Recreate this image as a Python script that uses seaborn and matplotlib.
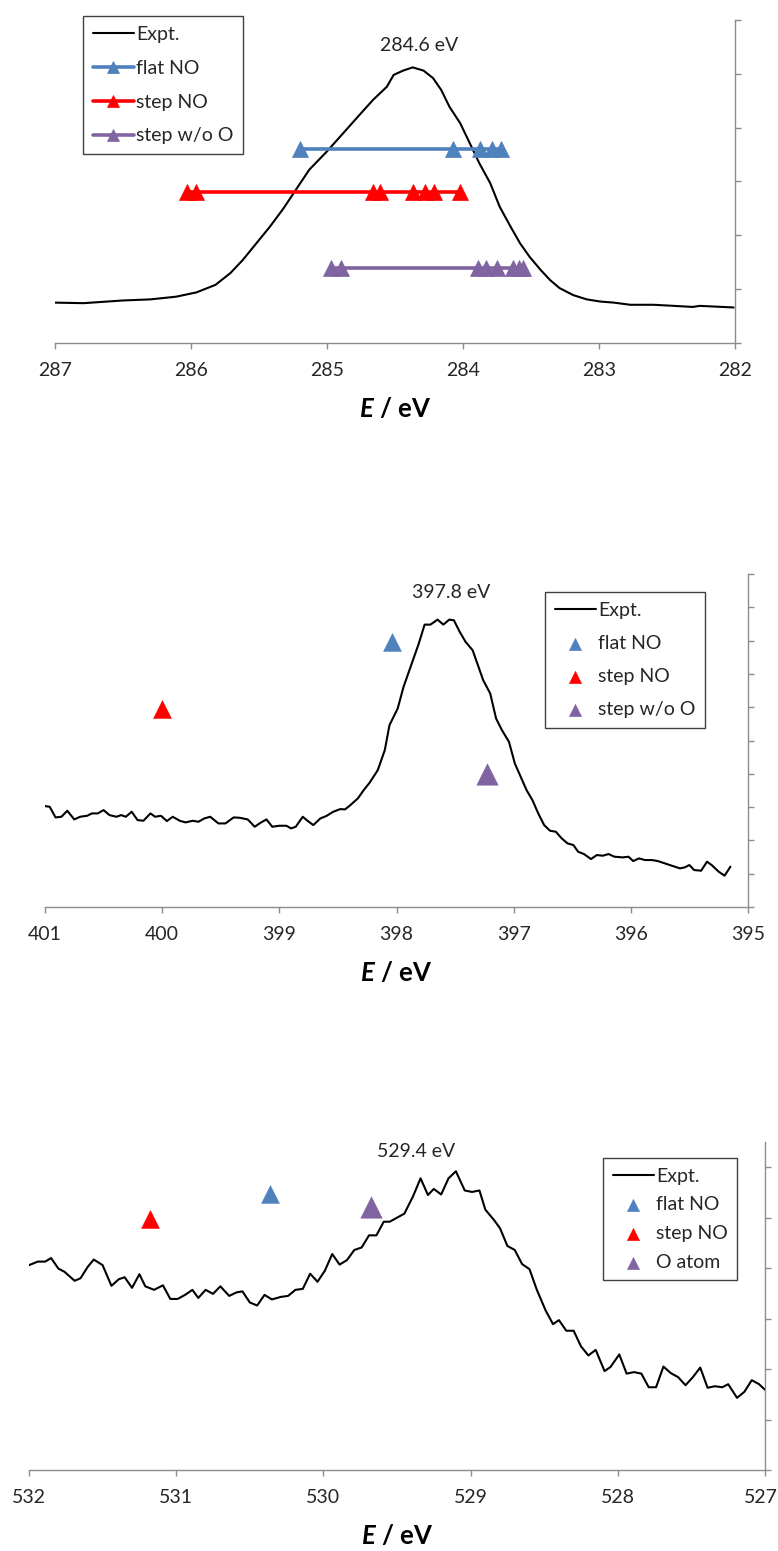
import numpy as np
import pandas as pd
import matplotlib
matplotlib.use("Agg")
import matplotlib.pyplot as plt
import matplotlib.transforms as mtransforms
import seaborn as sns

# ---------------- Panel 1 : C 1s ----------------
c_energy = [287.0, 286.79, 286.50, 286.30, 286.11, 285.96, 285.82, 285.71, 285.62, 285.52,
            285.42, 285.32, 285.22, 285.13, 285.00, 284.88, 284.76, 284.66, 284.61, 284.56,
            284.51, 284.44, 284.37, 284.29, 284.22, 284.16, 284.10, 284.02, 283.95, 283.88,
            283.80, 283.73, 283.65, 283.58, 283.51, 283.43, 283.36, 283.29, 283.19, 283.09,
            282.99, 282.89, 282.77, 282.60, 282.45, 282.31, 282.26, 282.01]
c_intensity = [0.75, 0.74, 0.79, 0.81, 0.86, 0.94, 1.08, 1.30, 1.54, 1.85,
               2.16, 2.50, 2.88, 3.22, 3.56, 3.90, 4.24, 4.52, 4.64, 4.76,
               4.98, 5.06, 5.12, 5.06, 4.92, 4.70, 4.39, 4.08, 3.71, 3.34,
               2.97, 2.53, 2.16, 1.85, 1.60, 1.36, 1.17, 1.02, 0.89, 0.81,
               0.77, 0.75, 0.71, 0.71, 0.69, 0.67, 0.69, 0.66]
c_flat_e = [285.20, 284.07, 283.875, 283.79, 283.72]
c_flat_y = [3.6, 3.6, 3.6, 3.6, 3.6]
c_step_e = [286.03, 285.96, 284.66, 284.61, 284.37, 284.28, 284.21, 284.02]
c_step_y = [2.8, 2.8, 2.8, 2.8, 2.8, 2.8, 2.8, 2.8]
c_woo_e = [284.97, 284.90, 283.89, 283.83, 283.75, 283.63, 283.59, 283.56]
c_woo_y = [1.4, 1.4, 1.4, 1.4, 1.4, 1.4, 1.4, 1.4]
c_ticks = [287, 286, 285, 284, 283, 282]

# ---------------- Panel 2 : N 1s ----------------
n_energy = [401.0, 400.96, 400.91, 400.86, 400.81, 400.75, 400.70, 400.64, 400.60, 400.55,
            400.50, 400.45, 400.39, 400.35, 400.31, 400.26, 400.21, 400.16, 400.10, 400.06,
            400.01, 399.96, 399.91, 399.85, 399.80, 399.74, 399.69, 399.64, 399.59, 399.52,
            399.46, 399.39, 399.34, 399.27, 399.21, 399.16, 399.11, 399.06, 399.00, 398.94,
            398.90, 398.86, 398.80, 398.76, 398.71, 398.65, 398.60, 398.54, 398.48, 398.44,
            398.40, 398.33, 398.28, 398.23, 398.16, 398.10, 398.06, 397.99, 397.94, 397.88,
            397.81, 397.76, 397.71, 397.65, 397.60, 397.55, 397.51, 397.46, 397.41, 397.35,
            397.30, 397.26, 397.20, 397.15, 397.10, 397.04, 396.99, 396.94, 396.89, 396.84,
            396.79, 396.74, 396.69, 396.64, 396.59, 396.54, 396.49, 396.45, 396.40, 396.34,
            396.29, 396.24, 396.19, 396.14, 396.07, 396.02, 395.98, 395.93, 395.88, 395.82,
            395.77, 395.71, 395.65, 395.58, 395.54, 395.50, 395.46, 395.40, 395.35, 395.31,
            395.25, 395.20, 395.15]
n_intensity = [3.03, 3.01, 2.69, 2.71, 2.89, 2.63, 2.71, 2.74, 2.81, 2.81,
               2.91, 2.76, 2.71, 2.76, 2.71, 2.86, 2.61, 2.59, 2.81, 2.71,
               2.74, 2.58, 2.71, 2.59, 2.54, 2.59, 2.56, 2.66, 2.71, 2.51,
               2.51, 2.69, 2.68, 2.63, 2.41, 2.53, 2.63, 2.41, 2.44, 2.44,
               2.36, 2.41, 2.71, 2.59, 2.46, 2.66, 2.73, 2.86, 2.94, 2.93,
               3.04, 3.26, 3.51, 3.73, 4.11, 4.71, 5.46, 5.96, 6.61, 7.21,
               7.91, 8.48, 8.48, 8.63, 8.48, 8.63, 8.61, 8.26, 7.96, 7.71,
               7.21, 6.81, 6.41, 5.66, 5.31, 4.96, 4.31, 3.91, 3.51, 3.21,
               2.81, 2.46, 2.29, 2.26, 2.06, 1.91, 1.86, 1.66, 1.59, 1.44,
               1.56, 1.54, 1.59, 1.51, 1.49, 1.51, 1.38, 1.46, 1.41, 1.41,
               1.38, 1.31, 1.24, 1.16, 1.19, 1.26, 1.11, 1.09, 1.36, 1.26,
               1.06, 0.94, 1.21]
n_flat = (398.04, 7.95)
n_step = (400.0, 5.96)
n_woo = (397.23, 3.98)
n_ticks = [401, 400, 399, 398, 397, 396, 395]

# ---------------- Panel 3 : O 1s ----------------
o_energy = [532.00, 531.94, 531.89, 531.85, 531.80, 531.76, 531.69, 531.65, 531.60, 531.56,
            531.50, 531.44, 531.39, 531.35, 531.30, 531.25, 531.21, 531.15, 531.09, 531.04,
            530.99, 530.94, 530.89, 530.85, 530.80, 530.75, 530.70, 530.64, 530.59, 530.55,
            530.50, 530.45, 530.40, 530.35, 530.29, 530.24, 530.19, 530.14, 530.09, 530.04,
            529.99, 529.94, 529.89, 529.84, 529.79, 529.74, 529.69, 529.64, 529.59, 529.55,
            529.50, 529.45, 529.39, 529.34, 529.29, 529.25, 529.20, 529.15, 529.10, 529.04,
            528.99, 528.94, 528.90, 528.84, 528.80, 528.75, 528.70, 528.65, 528.60, 528.55,
            528.49, 528.44, 528.40, 528.35, 528.30, 528.25, 528.20, 528.15, 528.09, 528.05,
            527.99, 527.94, 527.89, 527.84, 527.79, 527.74, 527.69, 527.64, 527.59, 527.54,
            527.49, 527.44, 527.39, 527.34, 527.29, 527.25, 527.19, 527.14, 527.09, 527.04,
            527.00]
o_intensity = [4.06, 4.13, 4.13, 4.20, 3.99, 3.93, 3.75, 3.80, 4.03, 4.17,
               4.06, 3.65, 3.78, 3.82, 3.61, 3.88, 3.64, 3.57, 3.66, 3.39,
               3.39, 3.47, 3.57, 3.41, 3.57, 3.49, 3.64, 3.45, 3.52, 3.54,
               3.32, 3.26, 3.47, 3.38, 3.43, 3.45, 3.57, 3.59, 3.89, 3.73,
               3.95, 4.28, 4.07, 4.16, 4.36, 4.41, 4.65, 4.65, 4.92, 4.92,
               5.00, 5.08, 5.43, 5.78, 5.45, 5.57, 5.46, 5.78, 5.92, 5.54,
               5.51, 5.54, 5.16, 4.95, 4.79, 4.44, 4.36, 4.08, 3.98, 3.57,
               3.16, 2.89, 2.97, 2.76, 2.76, 2.45, 2.27, 2.38, 1.96, 2.04,
               2.29, 1.91, 1.94, 1.91, 1.64, 1.64, 2.05, 1.92, 1.84, 1.68,
               1.84, 2.03, 1.63, 1.66, 1.64, 1.70, 1.43, 1.55, 1.78, 1.70,
               1.59]
o_flat = (530.36, 5.47)
o_step = (531.18, 4.97)
o_atom = (529.68, 5.21)
o_ticks = [532, 531, 530, 529, 528, 527]

BLUE = "#4F81BD"
RED = "#FF0000"
PURPLE = "#8064A2"
GRAY = "#8C8C8C"
TXT = "#262626"
FS = 14

sns.set_style("white")
plt.rcParams['font.family'] = ['Lato', 'DejaVu Sans']
plt.rcParams['mathtext.fontset'] = 'custom'
plt.rcParams['mathtext.it'] = 'Lato:italic:bold'
plt.rcParams['mathtext.rm'] = 'Lato:bold'

W, H = 778, 1551
fig = plt.figure(figsize=(W / 100, H / 100), dpi=100)


def rect(l, r, t, b):
    return [l / W, 1 - b / H, (r - l) / W, (b - t) / H]


def style(ax, xlim, xticks, ylim, yticks):
    ax.set_xlim(xlim)
    ax.set_ylim(ylim)
    ax.set_xticks(xticks)
    ax.set_xticklabels([str(t) for t in xticks])
    ax.set_yticks(yticks)
    ax.yaxis.tick_right()
    ax.tick_params(axis='y', right=True, left=False, labelright=False, labelleft=False,
                   direction='out', length=4, color=GRAY, width=1)
    ax.tick_params(axis='x', bottom=True, direction='out', length=4, color=GRAY, width=1,
                   labelsize=FS, labelcolor=TXT, pad=10)
    for s in ['top', 'left']:
        ax.spines[s].set_visible(False)
    for s in ['bottom', 'right']:
        ax.spines[s].set_visible(True)
        ax.spines[s].set_color(GRAY)
        ax.spines[s].set_linewidth(1.0)
    ax.set_xlabel(r'$E$ / eV', fontsize=18.5, fontweight='bold', color='black', labelpad=12)
    ax.set_ylabel('')
    ax.grid(False)


def legend(ax, anchor, spacing):
    leg = ax.legend(loc='upper left', bbox_to_anchor=anchor, borderaxespad=0,
                    frameon=True, fancybox=False, edgecolor='#404040', framealpha=1,
                    fontsize=FS, handlelength=2.1, handletextpad=0.12,
                    labelspacing=spacing, borderpad=0.5)
    leg.get_frame().set_linewidth(1.0)
    return leg


# ---------- Panel 1 ----------
ax1 = fig.add_axes(rect(55, 735, 20, 343))
sns.lineplot(x=c_energy, y=c_intensity, ax=ax1, color='black', lw=1.5, sort=False,
             estimator=None, label='Expt.')
for xs, ys, col, lab in [(c_flat_e, c_flat_y, BLUE, 'flat NO'),
                         (c_step_e, c_step_y, RED, 'step NO'),
                         (c_woo_e, c_woo_y, PURPLE, 'step w/o O')]:
    sns.lineplot(x=xs, y=ys, ax=ax1, color=col, lw=2.6, marker='^', markersize=12,
                 markeredgecolor=col, markeredgewidth=0.5, estimator=None, label=lab)
style(ax1, (287, 282), c_ticks, (0, 6), [0, 1, 2, 3, 4, 5, 6])
ax1.text(284.32, 5.52, '284.6 eV', ha='center', va='center', fontsize=FS, color=TXT)
leg1 = legend(ax1, ((83 - 55) / 680, (343 - 16) / 323), 0.87)
for h in leg1.legend_handles[1:]:
    h.set_markersize(9)

# ---------- Panel 2 ----------
ax2 = fig.add_axes(rect(45, 748, 574, 907))
sns.lineplot(x=n_energy, y=n_intensity, ax=ax2, color='black', lw=1.5, sort=False,
             estimator=None, label='Expt.')
for pt, col, size, lab in [(n_flat, BLUE, 13, 'flat NO'), (n_step, RED, 13, 'step NO'),
                           (n_woo, PURPLE, 15.5, 'step w/o O')]:
    sns.scatterplot(x=[pt[0]], y=[pt[1]], ax=ax2, color=col, marker='^', s=size ** 2,
                    edgecolor=col, linewidth=0.3, label=lab)
style(ax2, (401, 395), n_ticks, (0, 10), list(range(0, 11)))
ax2.text(397.53, 9.43, '397.8 eV', ha='center', va='center', fontsize=FS, color=TXT)
leg2 = legend(ax2, ((545 - 45) / 703, (907 - 592) / 333), 0.83)
for h in leg2.legend_handles[1:]:
    h.set_sizes([80])

# ---------- Panel 3 ----------
ax3 = fig.add_axes(rect(29, 765, 1142, 1470))
sns.lineplot(x=o_energy, y=o_intensity, ax=ax3, color='black', lw=1.5, sort=False,
             estimator=None, label='Expt.')
for pt, col, size, lab in [(o_flat, BLUE, 13, 'flat NO'), (o_step, RED, 13, 'step NO'),
                           (o_atom, PURPLE, 15.5, 'O atom')]:
    sns.scatterplot(x=[pt[0]], y=[pt[1]], ax=ax3, color=col, marker='^', s=size ** 2,
                    edgecolor=col, linewidth=0.3, label=lab)
style(ax3, (532, 527), o_ticks, (0, 6.5), [0, 1, 2, 3, 4, 5, 6])
ax3.text(529.37, 6.31, '529.4 eV', ha='center', va='center', fontsize=FS, color=TXT)
leg3 = legend(ax3, ((603 - 29) / 736, (1470 - 1158) / 328), 0.6)
for h in leg3.legend_handles[1:]:
    h.set_sizes([80])
# keep the last tick label ("527") inside the figure edge
last = ax3.get_xticklabels()[-1]
last.set_transform(last.get_transform() +
                   mtransforms.ScaledTranslation(-4 / 100, 0, fig.dpi_scale_trans))

fig.savefig('out.png', dpi=100)
